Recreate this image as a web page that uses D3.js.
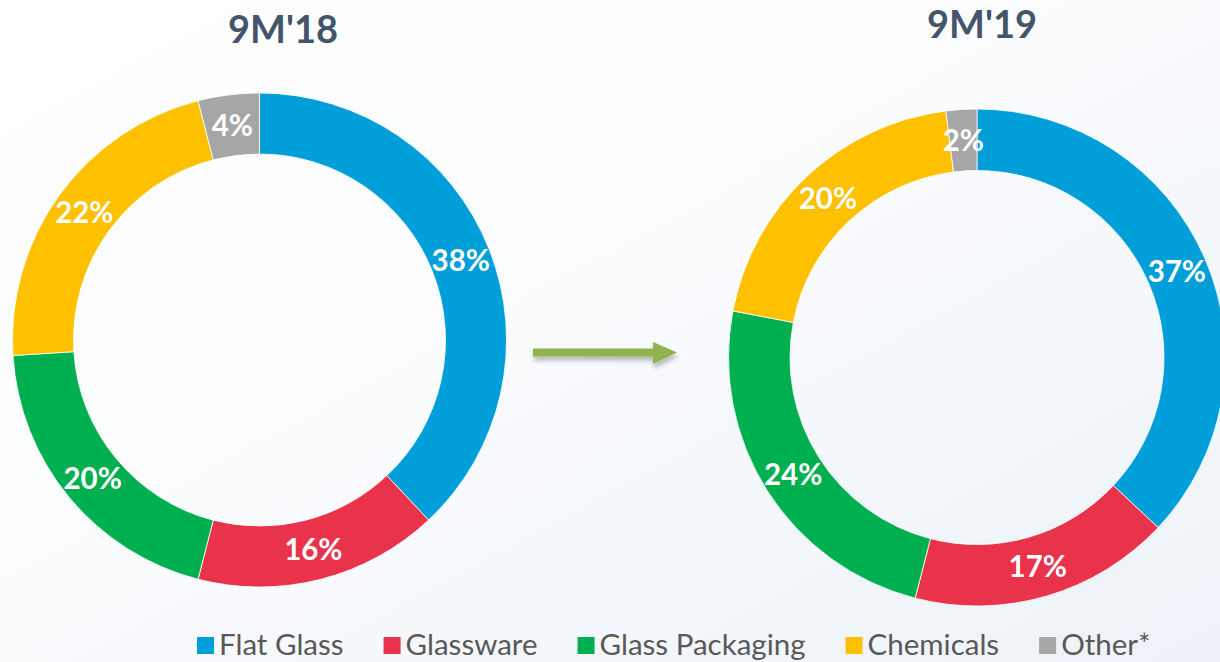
<!DOCTYPE html>
<html>
<head>
<meta charset="utf-8">
<script src="https://cdn.jsdelivr.net/npm/d3@7"></script>
<style>
  html, body { margin: 0; padding: 0; background: #ffffff; }
  svg { display: block; }
</style>
</head>
<body>
<svg id="chart" width="1220" height="662"></svg>
<script>
// Segment names, shared by both rings and the legend
const categories = ["Flat Glass", "Glassware", "Glass Packaging", "Chemicals", "Other*"];
const segmentColors = ["#009fda", "#e8334a", "#00b050", "#ffc000", "#a6a6a6"];

// Share of sales per segment (%)
const periods = ["9M'18", "9M'19"];
const values2018 = [38, 16, 20, 22, 4];
const values2019 = [37, 17, 24, 20, 2];

const svg = d3.select("#chart");
const W = 1220, H = 662;

// soft backdrop
const defs = svg.append("defs");
const bg = defs.append("linearGradient").attr("id", "bg")
  .attr("x1", "0").attr("y1", "0").attr("x2", "1").attr("y2", "1");
bg.append("stop").attr("offset", "0%").attr("stop-color", "#ffffff");
bg.append("stop").attr("offset", "45%").attr("stop-color", "#fbfcfe");
bg.append("stop").attr("offset", "100%").attr("stop-color", "#ecf2f7");
svg.append("rect").attr("width", W).attr("height", H).attr("fill", "url(#bg)");

const shadow = defs.append("filter").attr("id", "arrowShadow")
  .attr("x", "-20%").attr("y", "-50%").attr("width", "140%").attr("height", "250%");
shadow.append("feDropShadow").attr("dx", 1).attr("dy", 4).attr("stdDeviation", 2.5)
  .attr("flood-color", "#000").attr("flood-opacity", 0.28);

const color = d3.scaleOrdinal().domain(categories).range(segmentColors);

const pie = d3.pie().sort(null).value(d => d.value);

function donut(values, cx, cy, rOuter, rInner, title, titleX, titleY) {
  const data = categories.map((c, i) => ({ name: c, value: values[i] }));
  const arcs = pie(data);
  const arc = d3.arc().innerRadius(rInner).outerRadius(rOuter);
  const labelArc = d3.arc().innerRadius((rInner + rOuter) / 2).outerRadius((rInner + rOuter) / 2);

  const g = svg.append("g").attr("transform", `translate(${cx},${cy})`);
  g.selectAll("path").data(arcs).join("path")
    .attr("d", arc)
    .attr("fill", d => color(d.data.name))
    .attr("stroke", "#ffffff")
    .attr("stroke-width", 0.8);

  g.selectAll("text").data(arcs).join("text")
    .attr("transform", d => `translate(${labelArc.centroid(d)})`)
    .attr("text-anchor", "middle")
    .attr("dy", "0.36em")
    .attr("fill", "#ffffff")
    .attr("font-family", "Lato, 'Open Sans', sans-serif")
    .attr("font-weight", 700)
    .attr("font-size", 29.5)
    .text(d => d.data.value + "%");

  svg.append("text")
    .attr("x", titleX).attr("y", titleY)
    .attr("text-anchor", "middle")
    .attr("fill", "#44546a")
    .attr("font-family", "Lato, 'Open Sans', sans-serif")
    .attr("font-weight", 700)
    .attr("font-size", 38)
    .text(title);
}

donut(values2018, 259.5, 340, 247, 186, periods[0], 283, 43);
donut(values2019, 977, 357.5, 248.5, 187, periods[1], 982, 38);

// arrow between the two periods
svg.append("path")
  .attr("d", "M533,348.5 L653,348.5 L653,342 L677,352.5 L653,364 L653,356.5 L533,356.5 Z")
  .attr("fill", "#8fb450")
  .attr("filter", "url(#arrowShadow)");

// legend
const legend = svg.append("g").attr("transform", "translate(197,0)");
let lx = 0;
categories.forEach((c, i) => {
  const item = legend.append("g").attr("transform", `translate(${lx},0)`);
  item.append("rect").attr("x", 0).attr("y", 637).attr("width", 17).attr("height", 17)
    .attr("fill", color(c));
  const t = item.append("text")
    .attr("x", 22).attr("y", 655)
    .attr("fill", "#595959")
    .attr("font-family", "Lato, 'Open Sans', sans-serif")
    .attr("font-size", 29.5)
    .text(c);
  lx += 22 + t.node().getComputedTextLength() + 40;
});
</script>
</body>
</html>
